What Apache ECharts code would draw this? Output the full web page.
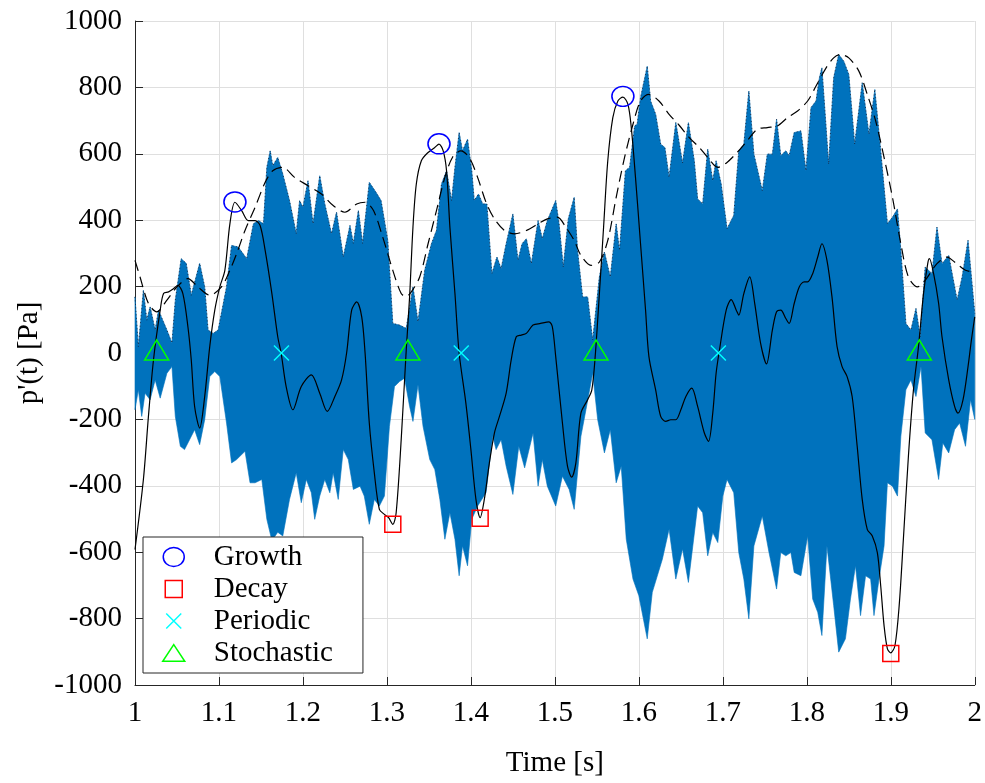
<!DOCTYPE html>
<html>
<head>
<meta charset="utf-8">
<script src="https://cdn.jsdelivr.net/npm/echarts@6/dist/echarts.min.js"></script>
<style>
html,body{margin:0;padding:0;background:#fff;}
#chart{width:985px;height:783px;}
</style>
</head>
<body>
<div id="chart"></div>
<script>
// ---- Data ----
var xTicks = [1, 1.1, 1.2, 1.3, 1.4, 1.5, 1.6, 1.7, 1.8, 1.9, 2];
var yTicks = [-1000, -800, -600, -400, -200, 0, 200, 400, 600, 800, 1000];

// Upper envelope of the oscillating pressure signal [time, Pa]
var envUpper = [[1.000,169],[1.004,19],[1.010,189],[1.014,99],[1.018,139],[1.024,69],[1.028,129],[1.038,69],[1.044,30],[1.048,159],[1.055,284],[1.061,270],[1.067,174],[1.077,270],[1.083,199],[1.087,69],[1.093,59],[1.099,69],[1.109,199],[1.115,324],[1.123,319],[1.133,284],[1.141,389],[1.147,399],[1.153,389],[1.157,559],[1.161,609],[1.164,564],[1.170,589],[1.176,539],[1.184,459],[1.192,359],[1.196,459],[1.200,439],[1.206,519],[1.212,389],[1.220,534],[1.226,449],[1.234,359],[1.240,424],[1.248,289],[1.256,384],[1.260,330],[1.266,429],[1.271,330],[1.279,514],[1.287,484],[1.293,459],[1.301,339],[1.307,89],[1.315,84],[1.323,74],[1.331,199],[1.337,94],[1.345,249],[1.353,329],[1.359,369],[1.365,509],[1.371,549],[1.377,459],[1.381,559],[1.386,664],[1.390,609],[1.396,644],[1.401,549],[1.404,459],[1.409,479],[1.414,449],[1.419,449],[1.425,239],[1.431,289],[1.436,254],[1.442,329],[1.450,419],[1.456,279],[1.461,329],[1.466,344],[1.472,269],[1.480,399],[1.485,344],[1.491,399],[1.501,459],[1.505,389],[1.510,259],[1.516,404],[1.523,469],[1.527,309],[1.533,169],[1.539,169],[1.545,39],[1.553,229],[1.559,304],[1.566,229],[1.573,389],[1.577,309],[1.584,549],[1.589,559],[1.595,684],[1.598,689],[1.602,769],[1.610,864],[1.614,759],[1.620,719],[1.626,629],[1.631,619],[1.636,529],[1.644,694],[1.652,572],[1.659,694],[1.666,579],[1.670,464],[1.676,449],[1.682,614],[1.688,519],[1.692,579],[1.698,509],[1.705,374],[1.713,414],[1.719,609],[1.725,629],[1.731,789],[1.737,599],[1.747,489],[1.753,599],[1.759,599],[1.764,704],[1.769,594],[1.775,609],[1.779,594],[1.785,664],[1.793,669],[1.799,549],[1.805,739],[1.811,759],[1.815,829],[1.818,859],[1.826,569],[1.832,829],[1.838,899],[1.844,879],[1.850,839],[1.857,629],[1.866,814],[1.874,659],[1.881,794],[1.888,609],[1.896,389],[1.902,409],[1.908,434],[1.912,309],[1.918,89],[1.924,69],[1.930,134],[1.935,49],[1.941,259],[1.949,239],[1.955,379],[1.961,269],[1.969,294],[1.979,159],[1.985,229],[1.992,339],[2.000,119]];

// Lower envelope of the oscillating pressure signal [time, Pa]
var envLower = [[1.000,-171],[1.004,-111],[1.008,-191],[1.012,-121],[1.018,-141],[1.024,-81],[1.030,-136],[1.038,-61],[1.044,-41],[1.048,-191],[1.054,-281],[1.059,-291],[1.065,-261],[1.071,-231],[1.077,-276],[1.083,-201],[1.089,-71],[1.095,-56],[1.101,-71],[1.109,-211],[1.115,-331],[1.121,-321],[1.131,-296],[1.137,-391],[1.143,-391],[1.151,-381],[1.157,-501],[1.163,-565],[1.170,-540],[1.176,-551],[1.184,-441],[1.192,-361],[1.198,-451],[1.204,-381],[1.210,-421],[1.214,-501],[1.220,-431],[1.226,-381],[1.232,-421],[1.236,-361],[1.242,-441],[1.248,-291],[1.254,-321],[1.260,-411],[1.268,-401],[1.273,-431],[1.279,-516],[1.285,-441],[1.291,-461],[1.297,-431],[1.303,-221],[1.309,-101],[1.315,-86],[1.321,-76],[1.327,-161],[1.331,-206],[1.337,-96],[1.343,-221],[1.351,-321],[1.357,-351],[1.363,-441],[1.369,-561],[1.375,-481],[1.381,-561],[1.386,-671],[1.390,-581],[1.396,-641],[1.401,-501],[1.408,-461],[1.418,-421],[1.426,-251],[1.430,-291],[1.436,-261],[1.442,-341],[1.450,-426],[1.457,-281],[1.464,-346],[1.474,-241],[1.480,-401],[1.485,-321],[1.491,-401],[1.501,-461],[1.509,-371],[1.517,-411],[1.523,-471],[1.531,-251],[1.537,-171],[1.545,-61],[1.551,-201],[1.559,-301],[1.566,-231],[1.573,-391],[1.579,-341],[1.585,-561],[1.593,-681],[1.600,-731],[1.610,-861],[1.616,-721],[1.628,-621],[1.636,-531],[1.644,-681],[1.652,-590],[1.659,-691],[1.670,-461],[1.676,-481],[1.682,-611],[1.688,-541],[1.694,-571],[1.700,-431],[1.705,-381],[1.713,-421],[1.719,-601],[1.725,-681],[1.731,-801],[1.737,-581],[1.747,-491],[1.755,-601],[1.764,-711],[1.769,-601],[1.775,-611],[1.781,-601],[1.785,-661],[1.793,-671],[1.801,-551],[1.807,-741],[1.813,-781],[1.818,-851],[1.824,-581],[1.832,-761],[1.838,-901],[1.846,-861],[1.852,-741],[1.858,-641],[1.864,-791],[1.870,-671],[1.876,-681],[1.880,-791],[1.886,-681],[1.892,-581],[1.896,-391],[1.902,-401],[1.908,-431],[1.912,-251],[1.918,-111],[1.924,-81],[1.930,-131],[1.936,-41],[1.941,-241],[1.949,-261],[1.957,-381],[1.962,-271],[1.969,-301],[1.976,-231],[1.982,-211],[1.989,-281],[1.995,-141],[2.000,-200]];

// Dashed amplitude envelope [time, Pa]
var envelopeLine = [[1.000,279],[1.006,229],[1.016,149],[1.026,124],[1.038,159],[1.050,199],[1.063,224],[1.075,199],[1.089,174],[1.103,199],[1.113,249],[1.121,299],[1.131,369],[1.143,439],[1.155,514],[1.164,549],[1.176,559],[1.190,529],[1.206,504],[1.222,479],[1.236,444],[1.250,424],[1.264,449],[1.274,454],[1.284,429],[1.295,349],[1.307,249],[1.317,179],[1.323,170],[1.329,184],[1.339,229],[1.349,329],[1.359,429],[1.369,529],[1.378,589],[1.388,609],[1.398,589],[1.408,529],[1.418,454],[1.428,404],[1.440,369],[1.452,359],[1.466,369],[1.480,389],[1.491,404],[1.503,409],[1.513,379],[1.523,339],[1.531,294],[1.543,264],[1.553,274],[1.563,339],[1.573,469],[1.583,589],[1.593,689],[1.602,759],[1.612,779],[1.624,759],[1.636,719],[1.648,686],[1.660,649],[1.672,619],[1.682,589],[1.694,559],[1.705,574],[1.717,604],[1.729,639],[1.741,674],[1.753,679],[1.765,684],[1.777,709],[1.789,729],[1.801,759],[1.811,804],[1.823,859],[1.832,889],[1.840,899],[1.850,889],[1.862,849],[1.872,779],[1.882,699],[1.892,589],[1.902,469],[1.912,329],[1.921,229],[1.932,199],[1.941,219],[1.955,269],[1.967,289],[1.976,274],[1.989,249],[2.000,244]];

// Solid black trace [time, Pa]
var solidTrace = [[1.000,-592],[1.010,-381],[1.016,-191],[1.022,-21],[1.030,129],[1.034,179],[1.040,184],[1.046,194],[1.051,204],[1.057,179],[1.063,79],[1.067,-21],[1.071,-161],[1.077,-226],[1.083,-131],[1.089,19],[1.095,129],[1.101,199],[1.107,249],[1.113,389],[1.119,454],[1.127,429],[1.135,399],[1.143,399],[1.149,384],[1.155,309],[1.163,179],[1.170,49],[1.174,0],[1.180,-101],[1.188,-171],[1.198,-101],[1.210,-66],[1.220,-121],[1.229,-176],[1.238,-131],[1.246,-81],[1.252,0],[1.258,129],[1.264,154],[1.270,109],[1.274,-1],[1.279,-211],[1.285,-361],[1.291,-471],[1.297,-486],[1.302,-496],[1.307,-516],[1.311,-481],[1.317,-261],[1.323,9],[1.327,169],[1.331,379],[1.335,509],[1.341,579],[1.349,604],[1.357,619],[1.362,629],[1.367,609],[1.371,549],[1.375,379],[1.381,179],[1.386,0],[1.394,-151],[1.400,-291],[1.406,-441],[1.411,-496],[1.416,-441],[1.422,-331],[1.428,-241],[1.434,-191],[1.442,-121],[1.448,-21],[1.454,49],[1.460,54],[1.466,59],[1.474,84],[1.483,89],[1.493,94],[1.497,79],[1.501,-11],[1.509,-211],[1.515,-341],[1.520,-374],[1.525,-331],[1.531,-181],[1.539,-141],[1.544,-111],[1.548,-11],[1.553,179],[1.558,379],[1.563,579],[1.569,709],[1.575,759],[1.581,771],[1.587,749],[1.591,679],[1.596,529],[1.602,329],[1.608,129],[1.612,-11],[1.620,-111],[1.626,-191],[1.632,-206],[1.638,-201],[1.644,-201],[1.650,-171],[1.656,-131],[1.663,-106],[1.670,-161],[1.678,-241],[1.683,-266],[1.688,-181],[1.692,-61],[1.696,9],[1.704,129],[1.710,161],[1.716,129],[1.719,114],[1.725,179],[1.732,229],[1.738,149],[1.745,29],[1.752,-33],[1.759,69],[1.764,124],[1.769,129],[1.775,104],[1.779,89],[1.785,149],[1.791,199],[1.797,214],[1.801,214],[1.807,239],[1.813,289],[1.818,329],[1.824,279],[1.830,169],[1.836,20],[1.842,-41],[1.848,-71],[1.854,-131],[1.860,-281],[1.866,-441],[1.872,-531],[1.878,-551],[1.884,-601],[1.888,-701],[1.892,-821],[1.896,-891],[1.900,-903],[1.905,-881],[1.910,-761],[1.915,-561],[1.921,-311],[1.927,-111],[1.933,19],[1.939,179],[1.944,269],[1.946,284],[1.951,239],[1.957,149],[1.961,49],[1.969,-81],[1.976,-161],[1.980,-181],[1.986,-141],[1.992,-41],[1.996,39],[2.000,109]];

// Classified events [time, Pa]
var growthPts = [[1.119,455],[1.362,630],[1.581,773]];
var decayPts = [[1.307,-516],[1.411,-498],[1.900,-905]];
var periodicPts = [[1.1744,0],[1.3885,0],[1.6947,0]];
var stochasticPts = [[1.0258,0],[1.325,0],[1.549,0],[1.934,0]];

var legendNames = ['Growth', 'Decay', 'Periodic', 'Stochastic'];

// ---- Chart ----
var FONT = "'Liberation Serif', 'Times New Roman', serif";
var AXIS_DARK = '#262626';
var GRID_GRAY = '#dfdfdf';
var crossPath = 'path://M0,0L15,15M15,0L0,15';

var chart = echarts.init(document.getElementById('chart'), null, {renderer: 'canvas'});

var option = {
  animation: false,
  backgroundColor: '#ffffff',
  grid: {left: 135, right: 9, top: 21, bottom: 97},
  xAxis: {
    type: 'value',
    min: xTicks[0], max: xTicks[xTicks.length - 1], interval: 0.1,
    name: 'Time [s]', nameLocation: 'middle', nameGap: 64,
    nameTextStyle: {fontFamily: FONT, fontSize: 29, color: '#000'},
    axisLine: {show: true, onZero: false, lineStyle: {color: AXIS_DARK, width: 1}},
    axisTick: {show: true, inside: true, length: 8, lineStyle: {color: AXIS_DARK}},
    axisLabel: {fontFamily: FONT, fontSize: 29, color: '#000', margin: 14,
      formatter: function (v) { return String(+v.toFixed(1)); }},
    splitLine: {show: true, lineStyle: {color: GRID_GRAY, width: 1}}
  },
  yAxis: {
    type: 'value',
    min: yTicks[0], max: yTicks[yTicks.length - 1], interval: 200,
    name: "p'(t) [Pa]", nameLocation: 'middle', nameGap: 90,
    nameTextStyle: {fontFamily: FONT, fontSize: 29, color: '#000'},
    axisLine: {show: true, onZero: false, lineStyle: {color: AXIS_DARK, width: 1}},
    axisTick: {show: true, inside: true, length: 8, lineStyle: {color: AXIS_DARK}},
    axisLabel: {fontFamily: FONT, fontSize: 29, color: '#000', margin: 13,
      formatter: function (v) { return String(v); }},
    splitLine: {show: true, lineStyle: {color: GRID_GRAY, width: 1}}
  },
  legend: {
    left: 143, top: 537, orient: 'vertical',
    padding: [4, 30, 4, 19],
    itemGap: 0, itemWidth: 22, itemHeight: 20,
    backgroundColor: '#ffffff', borderColor: AXIS_DARK, borderWidth: 1, borderRadius: 0,
    textStyle: {fontFamily: FONT, fontSize: 29, color: '#000', lineHeight: 32, padding: [0, 0, 0, 24]},
    data: [
      {name: legendNames[0], icon: 'path://M0,0M22,20M0.5,10A10.5,9.5,0,1,1,21.5,10A10.5,9.5,0,1,1,0.5,10Z',
        itemStyle: {color: 'rgba(0,0,0,0)', borderColor: '#0000ff', borderWidth: 1.5}},
      {name: legendNames[1], icon: 'path://M0,0M22,20M2.5,1.5L19.5,1.5L19.5,18.5L2.5,18.5Z',
        itemStyle: {color: 'rgba(0,0,0,0)', borderColor: '#ff0000', borderWidth: 1.5}},
      {name: legendNames[2], icon: 'path://M0,0M22,20M3.5,2.5L18.5,17.5M18.5,2.5L3.5,17.5',
        itemStyle: {color: 'rgba(0,0,0,0)', borderColor: '#00ffff', borderWidth: 1.5}},
      {name: legendNames[3], icon: 'path://M0,0M22,20M11,0.5L23.5,19.5L-1.5,19.5Z',
        itemStyle: {color: 'rgba(0,0,0,0)', borderColor: '#00ff00', borderWidth: 1.5}}
    ]
  },
  series: [
    {
      type: 'custom',
      name: 'signal',
      silent: true,
      z: 1,
      data: [[1, 0]],
      renderItem: function (params, api) {
        var pts = [];
        for (var i = 0; i < envUpper.length; i++) pts.push(api.coord(envUpper[i]));
        for (var j = envLower.length - 1; j >= 0; j--) pts.push(api.coord(envLower[j]));
        return {type: 'polygon', shape: {points: pts}, style: {fill: '#0072BD', stroke: '#0072BD', lineWidth: 0.6}};
      }
    },
    {
      type: 'line', name: 'signalEdge', data: envUpper, z: 2, silent: true,
      symbol: 'none', lineStyle: {color: 'rgba(20,20,40,0.75)', width: 1, type: [1, 2.5]}
    },
    {
      type: 'line', name: 'envelope', data: envelopeLine, z: 3, silent: true,
      symbol: 'none', smooth: 0.3,
      lineStyle: {color: '#000', width: 1.2, type: [11, 6]}
    },
    {
      type: 'line', name: 'trace', data: solidTrace, z: 4, silent: true,
      symbol: 'none', smooth: 0.3,
      lineStyle: {color: '#000', width: 1.2}
    },
    {
      type: 'scatter', name: legendNames[0], data: growthPts, z: 5,
      symbol: 'circle', symbolSize: [22, 20],
      itemStyle: {color: 'rgba(0,0,0,0)', borderColor: '#0000ff', borderWidth: 1.5, opacity: 1}
    },
    {
      type: 'scatter', name: legendNames[1], data: decayPts, z: 5,
      symbol: 'rect', symbolSize: 16,
      itemStyle: {color: 'rgba(0,0,0,0)', borderColor: '#ff0000', borderWidth: 1.5, opacity: 1}
    },
    {
      type: 'scatter', name: legendNames[2], data: periodicPts, z: 5,
      symbol: crossPath, symbolSize: 15,
      itemStyle: {color: 'rgba(0,0,0,0)', borderColor: '#00ffff', borderWidth: 1.5, opacity: 1}
    },
    {
      type: 'scatter', name: legendNames[3], data: stochasticPts, z: 5,
      symbol: 'triangle', symbolSize: [24, 20], symbolOffset: [0, -3],
      itemStyle: {color: 'rgba(0,0,0,0)', borderColor: '#00ff00', borderWidth: 1.5, opacity: 1}
    }
  ]
};

chart.setOption(option);
</script>
</body>
</html>
